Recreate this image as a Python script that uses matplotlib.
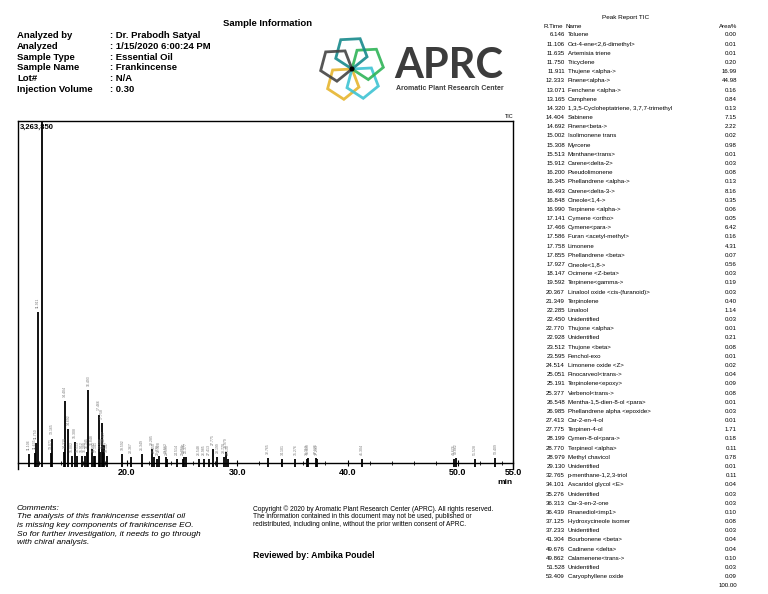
import math
import matplotlib
matplotlib.use('Agg')
import matplotlib.pyplot as plt
from matplotlib.patches import RegularPolygon, Circle
from matplotlib.ticker import FixedLocator, MultipleLocator

plt.rcParams['font.family'] = ['Liberation Sans', 'DejaVu Sans']

W, H = 768, 594

info_labels = ['Analyzed by', 'Analyzed', 'Sample Type', 'Sample Name', 'Lot#', 'Injection Volume']
info_values = ['Dr. Prabodh Satyal', '1/15/2020 6:00:24 PM', 'Essential Oil', 'Frankincense', 'N/A', '0.30']

rtimes = [6.146, 11.106, 11.635, 11.750, 11.911, 12.333, 13.071, 13.165, 14.320, 14.404,
          14.692, 15.002, 15.308, 15.513, 15.912, 16.200, 16.345, 16.493, 16.848, 16.990,
          17.141, 17.466, 17.586, 17.758, 17.855, 17.927, 18.147, 19.592, 20.367, 21.349,
          22.285, 22.450, 22.770, 22.928, 23.512, 23.595, 24.514, 25.051, 25.191, 25.377,
          26.548, 26.985, 27.413, 27.775, 28.199, 28.770, 28.979, 29.130, 32.765, 34.101,
          35.276, 36.313, 36.439, 37.125, 37.233, 41.304, 49.676, 49.862, 51.528, 53.409]
names = ['Toluene', 'Oct-4-ene<2,6-dimethyl>', 'Artemisia triene', 'Tricyclene',
         'Thujene <alpha->', 'Pinene<alpha->', 'Fenchene <alpha->', 'Camphene',
         '1,3,5-Cycloheptatriene, 3,7,7-trimethyl', 'Sabinene', 'Pinene<beta->',
         'Isolimonene trans', 'Myrcene', 'Menthane<trans>', 'Carene<delta-2>',
         'Pseudolimonene', 'Phellandrene <alpha->', 'Carene<delta-3->', 'Cineole<1,4->',
         'Terpinene <alpha->', 'Cymene <ortho>', 'Cymene<para->', 'Furan <acetyl-methyl>',
         'Limonene', 'Phellandrene <beta>', 'Cineole<1,8->', 'Ocimene <Z-beta>',
         'Terpinene<gamma->', 'Linalool oxide <cis-(furanoid)>', 'Terpinolene', 'Linalool',
         'Unidentified', 'Thujone <alpha>', 'Unidentified', 'Thujone <beta>', 'Fenchol-exo',
         'Limonene oxide <Z>', 'Pinocarveol<trans->', 'Terpinolene<epoxy>', 'Verbenol<trans->',
         'Mentha-1,5-dien-8-ol <para>', 'Phellandrene alpha <epoxide>', 'Car-2-en-4-ol',
         'Terpinen-4-ol', 'Cymen-8-ol<para->', 'Terpineol <alpha>', 'Methyl chavicol',
         'Unidentified', 'p-menthane-1,2,3-triol', 'Ascaridol glycol <E>', 'Unidentified',
         'Car-3-en-2-one', 'Pinanediol<imp1>', 'Hydroxycineole isomer', 'Unidentified',
         'Bourbonene <beta>', 'Cadinene <delta>', 'Calamenene<trans->', 'Unidentified',
         'Caryophyllene oxide']
areas = [0.00, 0.01, 0.01, 0.20, 16.99, 44.98, 0.16, 0.84, 0.13, 7.15,
         2.22, 0.02, 0.98, 0.01, 0.03, 0.08, 0.13, 8.16, 0.35, 0.06,
         0.05, 6.42, 0.16, 4.31, 0.07, 0.56, 0.03, 0.19, 0.03, 0.40,
         1.14, 0.03, 0.01, 0.21, 0.08, 0.01, 0.02, 0.04, 0.09, 0.08,
         0.01, 0.03, 0.01, 1.71, 0.18, 0.11, 0.78, 0.01, 0.11, 0.04,
         0.03, 0.03, 0.10, 0.08, 0.03, 0.04, 0.04, 0.10, 0.03, 0.09]
# peak heights (counts)
heights = [20000, 80000, 95000, 190000, 1440000, 3263850, 95000, 230000, 100000, 590000,
           320000, 65000, 200000, 65000, 65000, 65000, 100000, 690000, 130000, 65000,
           65000, 460000, 100000, 380000, 100000, 170000, 65000, 80000, 50000, 80000,
           130000, 50000, 35000, 65000, 50000, 35000, 35000, 35000, 50000, 50000,
           35000, 35000, 35000, 130000, 50000, 50000, 100000, 35000, 40000, 35000,
           35000, 35000, 40000, 40000, 35000, 35000, 35000, 40000, 35000, 40000]
max_count = 3263850
x_ticks = [20.0, 30.0, 40.0, 50.0, 55.0]

comments = ['The analysis of this frankincense essential oil',
            'is missing key components of frankincense EO.',
            'So for further investigation, it needs to go through',
            'with chiral analysis.']
copyright_lines = ['Copyright \u00a9 2020 by Aromatic Plant Research Center (APRC). All rights reserved.',
                   'The information contained in this document may not be used, published or',
                   'redistributed, including online, without the prior written consent of APRC.']


def px(x, y):
    return x / W, 1 - y / H


fig = plt.figure(figsize=(W / 100, H / 100), dpi=100)
fig.patch.set_facecolor('white')

# header
fig.text(*px(268, 24), 'Sample Information', ha='center', va='center', fontsize=6.8, fontweight='bold')
for i in range(len(info_labels)):
    y = 36 + i * 10.6
    fig.text(*px(17, y), info_labels[i], ha='left', va='center', fontsize=6.8, fontweight='bold')
    fig.text(*px(110, y), ': ' + info_values[i], ha='left', va='center', fontsize=6.8, fontweight='bold')

# logo
lax = fig.add_axes([310 / W, 1 - 111 / H, 84 / W, 84 / H])
lax.set_xlim(-42, 42)
lax.set_ylim(-42, 42)
lax.set_aspect('equal')
lax.axis('off')
logo_colors = ['#e6b52e', '#3ec3d3', '#2fb457', '#178a8c', '#444444']
logo_angles = [-123, -51, 21, 93, 165]
for c, a in zip(logo_colors, logo_angles):
    r = 16.5
    cx = r * math.cos(math.radians(a))
    cy = r * math.sin(math.radians(a))
    lax.add_patch(RegularPolygon((cx, cy), 5, radius=r, orientation=math.radians(a) + math.pi / 2,
                                 fill=False, edgecolor=c, lw=2.0, alpha=0.9))
lax.add_patch(Circle((0, 0), 1.8, color='black'))
fig.text(*px(394, 66), 'APRC', ha='left', va='center', fontsize=30, fontweight='bold',
         color='#3c3c3c', family=['Lato', 'DejaVu Sans'])
fig.text(*px(396, 89), 'Aromatic Plant Research Center', ha='left', va='center', fontsize=5.0,
         color='#3c3c3c', fontweight='bold')

# peak table
fig.text(*px(626, 17), 'Peak Report TIC', ha='center', va='center', fontsize=4.6)
fig.text(*px(543, 26), 'R.Time', ha='left', va='center', fontsize=4.4)
fig.text(*px(566, 26), 'Name', ha='left', va='center', fontsize=4.4)
fig.text(*px(737, 26), 'Area%', ha='right', va='center', fontsize=4.4)
for i in range(len(rtimes)):
    y = 35 + i * 9.18
    fig.text(*px(565, y), '%.3f' % rtimes[i], ha='right', va='center', fontsize=4.4)
    fig.text(*px(568, y), names[i], ha='left', va='center', fontsize=4.4)
    fig.text(*px(737, y), '%.2f' % areas[i], ha='right', va='center', fontsize=4.4)
fig.text(*px(737, 35 + len(rtimes) * 9.18), '%.2f' % round(sum(areas)), ha='right', va='center', fontsize=4.4)

# chromatogram
x_min, x_max = 10.15, 55.0
ax = fig.add_axes([18.3 / W, 0.2096, (513 - 18.3) / W, 0.5867])
ax.vlines(rtimes, -0.012 * max_count, heights, color='black', lw=1.3)
for rt, h in zip(rtimes, heights):
    if rt < x_min:
        continue
    ax.text(rt, h + 0.012 * max_count, '%.3f' % rt, rotation=90, fontsize=2.5, color='#777777',
            ha='center', va='bottom', clip_on=True)
ax.set_xlim(x_min, x_max)
ax.set_ylim(-0.02 * max_count, max_count)
ax.spines['bottom'].set_position(('data', 0))
for s in ax.spines.values():
    s.set_linewidth(1.0)
ax.set_yticks([])
ax.xaxis.set_major_locator(FixedLocator(x_ticks))
ax.xaxis.set_minor_locator(MultipleLocator(2))
ax.set_xticklabels(['%.1f' % t for t in x_ticks], fontweight='bold')
ax.tick_params(axis='x', which='major', direction='inout', length=5, width=0.8, labelsize=6.5, pad=1)
ax.tick_params(axis='x', which='minor', direction='inout', length=3, width=0.6)
ax.text(0.004, 0.993, '3,263,850', transform=ax.transAxes, ha='left', va='top', fontsize=5.5,
        fontweight='bold')
fig.text(*px(514, 117), 'TIC', ha='right', va='center', fontsize=4)
fig.text(*px(513, 482), 'min', ha='right', va='center', fontsize=6, fontweight='bold')

# comments and footer
fig.text(*px(17, 508), 'Comments:', ha='left', va='center', fontsize=6.0, style='italic')
for i, line in enumerate(comments):
    fig.text(*px(17, 517 + i * 8.6), line, ha='left', va='center', fontsize=6.0, style='italic')
for i, line in enumerate(copyright_lines):
    fig.text(*px(253, 509 + i * 8), line, ha='left', va='center', fontsize=4.75)
fig.text(*px(253, 555), 'Reviewed by: Ambika Poudel', ha='left', va='center', fontsize=6.3, fontweight='bold')

fig.savefig('out.png', dpi=100)
